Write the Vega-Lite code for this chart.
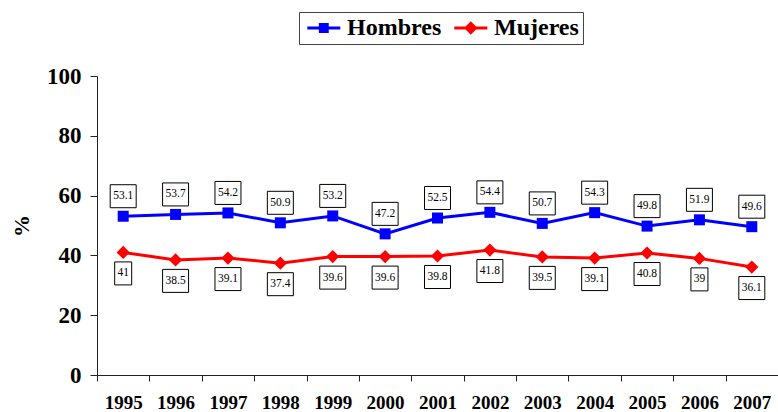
{
  "$schema": "https://vega.github.io/schema/vega-lite/v6.json",
  "width": 681,
  "height": 299,
  "autosize": {"type": "none"},
  "padding": {"left": 97, "top": 76, "right": 0, "bottom": 37},
  "background": "white",
  "config": {
    "view": {"stroke": null},
    "font": "Liberation Serif",
    "axis": {"domainColor": "#222", "tickColor": "#222", "grid": false, "labelColor": "black", "titleColor": "black"}
  },
  "data": {
    "values": [
      {"anio": "1995", "sexo": "Hombres", "valor": 53.1},
      {"anio": "1996", "sexo": "Hombres", "valor": 53.7},
      {"anio": "1997", "sexo": "Hombres", "valor": 54.2},
      {"anio": "1998", "sexo": "Hombres", "valor": 50.9},
      {"anio": "1999", "sexo": "Hombres", "valor": 53.2},
      {"anio": "2000", "sexo": "Hombres", "valor": 47.2},
      {"anio": "2001", "sexo": "Hombres", "valor": 52.5},
      {"anio": "2002", "sexo": "Hombres", "valor": 54.4},
      {"anio": "2003", "sexo": "Hombres", "valor": 50.7},
      {"anio": "2004", "sexo": "Hombres", "valor": 54.3},
      {"anio": "2005", "sexo": "Hombres", "valor": 49.8},
      {"anio": "2006", "sexo": "Hombres", "valor": 51.9},
      {"anio": "2007", "sexo": "Hombres", "valor": 49.6},
      {"anio": "1995", "sexo": "Mujeres", "valor": 41},
      {"anio": "1996", "sexo": "Mujeres", "valor": 38.5},
      {"anio": "1997", "sexo": "Mujeres", "valor": 39.1},
      {"anio": "1998", "sexo": "Mujeres", "valor": 37.4},
      {"anio": "1999", "sexo": "Mujeres", "valor": 39.6},
      {"anio": "2000", "sexo": "Mujeres", "valor": 39.6},
      {"anio": "2001", "sexo": "Mujeres", "valor": 39.8},
      {"anio": "2002", "sexo": "Mujeres", "valor": 41.8},
      {"anio": "2003", "sexo": "Mujeres", "valor": 39.5},
      {"anio": "2004", "sexo": "Mujeres", "valor": 39.1},
      {"anio": "2005", "sexo": "Mujeres", "valor": 40.8},
      {"anio": "2006", "sexo": "Mujeres", "valor": 39},
      {"anio": "2007", "sexo": "Mujeres", "valor": 36.1}
    ]
  },
  "encoding": {
    "x": {
      "field": "anio",
      "type": "ordinal",
      "scale": {"type": "band", "paddingInner": 0, "paddingOuter": 0},
      "axis": {
        "title": null,
        "labelAngle": 0,
        "labelFont": "Liberation Serif",
        "labelFontWeight": "bold",
        "labelFontSize": 19,
        "tickBand": "extent",
        "tickSize": 6,
        "labelPadding": 12
      }
    },
    "y": {
      "field": "valor",
      "type": "quantitative",
      "scale": {"domain": [0, 100]},
      "axis": {
        "values": [0, 20, 40, 60, 80, 100],
        "title": "%",
        "titleFont": "Liberation Serif",
        "titleFontWeight": "bold",
        "titleFontSize": 22,
        "titleX": -76,
        "titleY": 149.5,
        "titleAlign": "center",
        "titleBaseline": "middle",
        "labelFont": "Liberation Serif",
        "labelFontWeight": "bold",
        "labelFontSize": 23,
        "tickSize": 7,
        "labelPadding": 9
      }
    }
  },
  "layer": [
    {
      "mark": {"type": "line", "strokeWidth": 3},
      "encoding": {
        "color": {"field": "sexo", "type": "nominal", "scale": {"domain": ["Hombres", "Mujeres"], "range": ["#0000FF", "#FF0000"]}}
      }
    },
    {
      "transform": [{"filter": "datum.sexo === 'Hombres'"}],
      "mark": {"type": "point", "filled": true, "opacity": 1, "size": 121, "shape": "square"},
      "encoding": {
        "color": {"field": "sexo", "type": "nominal"}
      }
    },
    {
      "transform": [{"filter": "datum.sexo === 'Mujeres'"}],
      "mark": {"type": "point", "filled": true, "opacity": 1, "size": 175, "shape": "diamond"},
      "encoding": {
        "color": {"field": "sexo", "type": "nominal"}
      }
    },
    {
      "transform": [{"filter": "false"}],
      "mark": {"type": "point", "filled": true, "opacity": 1, "size": 484},
      "encoding": {
        "color": {"field": "sexo", "type": "nominal"},
        "shape": {
          "field": "sexo",
          "type": "nominal",
          "scale": {"domain": ["Hombres", "Mujeres"], "range": ["M-0.7,-0.13H2.3V0.13H-0.7Z M0.35,-0.45H1.25V0.45H0.35Z", "M-0.7,-0.13H2.3V0.13H-0.7Z M0.8,-0.62L1.42,0L0.8,0.62L0.18,0Z"]},
          "legend": {
            "title": null,
            "orient": "none",
            "direction": "horizontal",
            "legendX": 202,
            "legendY": -64,
            "strokeColor": "#444",
            "fillColor": "white",
            "padding": 4,
            "labelFont": "Liberation Serif",
            "labelFontWeight": "bold",
            "labelFontSize": 24,
            "labelColor": "black",
            "labelOffset": 20,
            "columnPadding": 8,
            "symbolSize": 484,
            "symbolStrokeWidth": 0,
            "symbolOpacity": 1
          }
        }
      }
    },
    {
      "transform": [{"filter": "datum.sexo === 'Hombres'"}],
      "mark": {"type": "point", "filled": false, "fill": "white", "fillOpacity": 1, "stroke": "black", "strokeWidth": 1, "opacity": 1, "size": 529, "yOffset": -20},
      "encoding": {
        "shape": {"condition": {"test": "length(toString(datum.valor)) <= 2", "value": "M-0.74,-1H0.74V1H-0.74Z"}, "value": "M-1.13,-1H1.13V1H-1.13Z"}
      }
    },
    {
      "transform": [{"filter": "datum.sexo === 'Hombres'"}],
      "mark": {"type": "text", "font": "Liberation Serif", "fontSize": 11.5, "color": "black", "dy": -20, "baseline": "middle"},
      "encoding": {"text": {"field": "valor", "type": "quantitative", "format": ".1~f"}}
    },
    {
      "transform": [{"filter": "datum.sexo === 'Mujeres'"}],
      "mark": {"type": "point", "filled": false, "fill": "white", "fillOpacity": 1, "stroke": "black", "strokeWidth": 1, "opacity": 1, "size": 529, "yOffset": 21},
      "encoding": {
        "shape": {"condition": {"test": "length(toString(datum.valor)) <= 2", "value": "M-0.74,-1H0.74V1H-0.74Z"}, "value": "M-1.13,-1H1.13V1H-1.13Z"}
      }
    },
    {
      "transform": [{"filter": "datum.sexo === 'Mujeres'"}],
      "mark": {"type": "text", "font": "Liberation Serif", "fontSize": 11.5, "color": "black", "dy": 21, "baseline": "middle"},
      "encoding": {"text": {"field": "valor", "type": "quantitative", "format": ".1~f"}}
    }
  ]
}
